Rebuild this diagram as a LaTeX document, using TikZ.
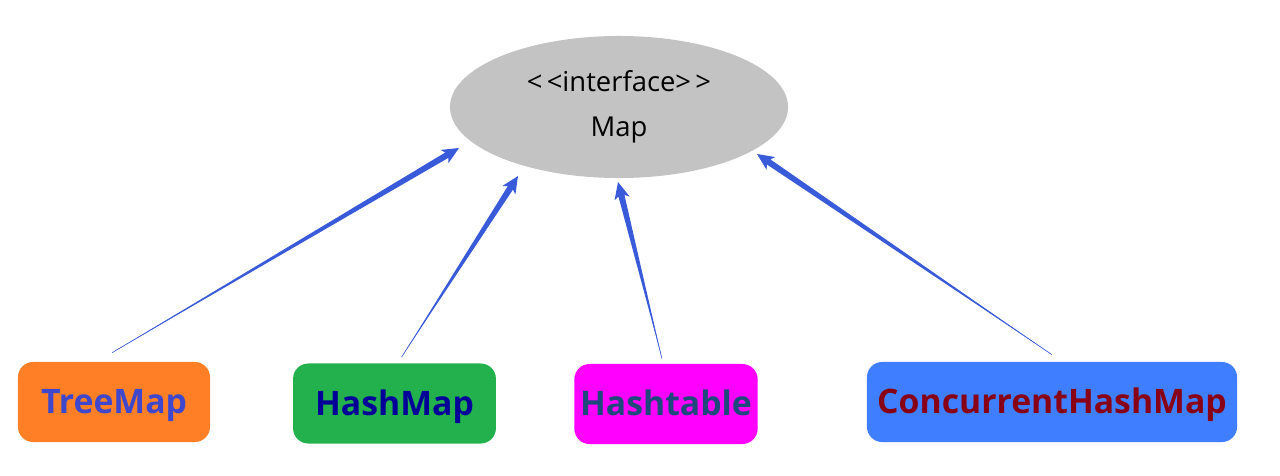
\documentclass[tikz,border=0pt]{standalone}
\usepackage{fontspec}
\setmainfont{Open Sans}
\usetikzlibrary{calc, shapes.geometric}
\definecolor{mapgray}{HTML}{C3C3C3}
\definecolor{arrowblue}{HTML}{3A5BD9}
\definecolor{treeorange}{HTML}{FF7F27}
\definecolor{hashgreen}{HTML}{22B14C}
\definecolor{tablemagenta}{HTML}{FF00FF}
\definecolor{concblue}{HTML}{3F7FFF}
\definecolor{treetext}{HTML}{3F48CC}
\definecolor{hashtext}{HTML}{000099}
\definecolor{tabletext}{HTML}{1F497D}
\definecolor{conctext}{HTML}{880015}

% spitzer Pfeil: Ende (#1) duenn, Spitze (#2)
\newcommand{\taperarrow}[2]{%
  \coordinate (hb) at ($(#2)!12pt!(#1)$);
  \coordinate (hk) at ($(#2)!10pt!(#1)$);
  \fill[arrowblue] (#1) -- ($(hk)!2.2pt!90:(#1)$) -- ($(hb)!5.5pt!90:(#1)$) -- (#2)
    -- ($(hb)!5.5pt!-90:(#1)$) -- ($(hk)!2.2pt!-90:(#1)$) -- cycle;
  \draw[arrowblue, line width=0.4pt] (#1) -- (hk);
}

\begin{document}
\begin{tikzpicture}[x=0.025cm, y=-0.025cm,
  cls/.style={rounded corners=0.38cm, minimum height=2cm, inner sep=0pt,
    text height=17pt, text depth=0pt,
    font=\bfseries\fontsize{24pt}{26pt}\selectfont}]
  \useasboundingbox (0,0) rectangle (1280,475);

  % Interface
  \node[ellipse, fill=mapgray, minimum width=8.45cm, minimum height=3.55cm, inner sep=0pt,
    align=center, font=\fontsize{19.5pt}{32pt}\selectfont] (map) at (619,107)
    {<\kern3pt<interface>\kern3pt>\\Map};

  % Implementierungen
  \node[cls, fill=treeorange, text=treetext, minimum width=4.8cm] (treemap) at (114,402) {TreeMap};
  \node[cls, fill=hashgreen, text=hashtext, minimum width=5.07cm] (hashmap) at (394.5,403.5) {HashMap};
  \node[cls, fill=tablemagenta, text=tabletext, minimum width=4.58cm] (hashtable) at (666,404) {Hashtable};
  \node[cls, fill=concblue, text=conctext, minimum width=9.25cm] (chm) at (1052,402) {ConcurrentHashMap};

  % Pfeilenden
  \coordinate (t1) at ($(treemap.north)+(-2,-9)$);
  \coordinate (t2) at ($(hashmap.north)+(7,-6)$);
  \coordinate (t3) at ($(hashtable.north)+(-4,-5)$);
  \coordinate (t4) at ($(chm.north)+(0,-7)$);
  \coordinate (h1) at (459,148);
  \coordinate (h2) at (518,176);
  \coordinate (h3) at (618,182);
  \coordinate (h4) at (757,154);

  \taperarrow{t1}{h1}
  \taperarrow{t2}{h2}
  \taperarrow{t3}{h3}
  \taperarrow{t4}{h4}
\end{tikzpicture}
\end{document}
